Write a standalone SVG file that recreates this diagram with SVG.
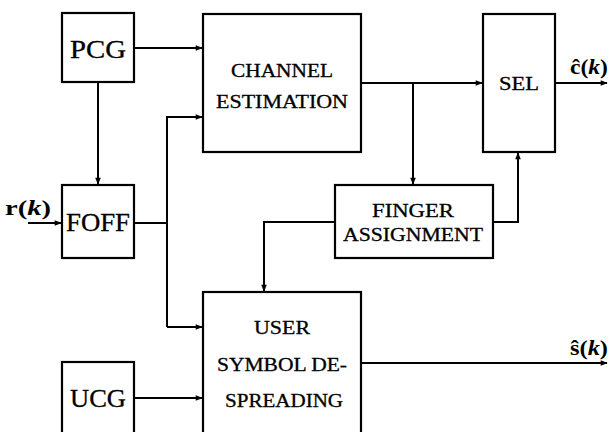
<svg xmlns="http://www.w3.org/2000/svg" width="612" height="432" viewBox="0 0 612 432">
<style>
.box{fill:#fff;stroke:#000;stroke-width:2.2}
.lbl{font-family:"Liberation Serif","DejaVu Serif",serif;fill:#000;stroke:#000;stroke-width:0.3;text-anchor:middle}
.big{font-size:25px}
.mid{font-size:19px}
.math{font-family:"Liberation Serif","DejaVu Serif",serif;font-size:22px;font-weight:bold;fill:#000}
.conn path{fill:none;stroke:#000;stroke-width:2}
</style>
<defs>
<marker id="ah" viewBox="0 0 10 10" refX="9" refY="5" markerWidth="8" markerHeight="7" markerUnits="userSpaceOnUse" orient="auto">
<path d="M0,1 L10,5 L0,9 z" fill="#000"/>
</marker>
</defs>
<rect width="612" height="432" fill="#fff"/>
<g id="connectors" class="conn">
<path d="M134,48 H202" marker-end="url(#ah)"/>
<path d="M98,82 V184" marker-end="url(#ah)"/>
<path d="M28,223 H61" marker-end="url(#ah)"/>
<path d="M134,223 H167"/>
<path d="M167,327 V117 H202" marker-end="url(#ah)"/>
<path d="M167,327 H202" marker-end="url(#ah)"/>
<path d="M134,398 H202" marker-end="url(#ah)"/>
<path d="M361,83 H482" marker-end="url(#ah)"/>
<path d="M413,83 V184" marker-end="url(#ah)"/>
<path d="M555,83 H607" marker-end="url(#ah)"/>
<path d="M493,222 H518 V153" marker-end="url(#ah)"/>
<path d="M335,222 H264 V291" marker-end="url(#ah)"/>
<path d="M361,363 H607" marker-end="url(#ah)"/>
</g>
<g id="pcg"><rect class="box" x="62" y="13" width="72" height="69"/><text class="lbl big" x="98" y="58" textLength="56" lengthAdjust="spacingAndGlyphs">PCG</text></g>
<g id="foff"><rect class="box" x="62" y="185" width="72" height="73"/><text class="lbl big" x="98" y="231" textLength="64" lengthAdjust="spacingAndGlyphs">FOFF</text></g>
<g id="ucg"><rect class="box" x="62" y="362" width="72" height="76"/><text class="lbl big" x="98" y="407" textLength="56" lengthAdjust="spacingAndGlyphs">UCG</text></g>
<g id="channel"><rect class="box" x="203" y="14" width="158" height="138"/><text class="lbl mid" x="282" y="77" textLength="102" lengthAdjust="spacingAndGlyphs">CHANNEL</text><text class="lbl mid" x="282" y="108" textLength="132" lengthAdjust="spacingAndGlyphs">ESTIMATION</text></g>
<g id="sel"><rect class="box" x="483" y="14" width="72" height="138"/><text class="lbl mid" x="519" y="90" textLength="40" lengthAdjust="spacingAndGlyphs">SEL</text></g>
<g id="finger"><rect class="box" x="335" y="185" width="158" height="73"/><text class="lbl mid" x="413" y="217" textLength="82" lengthAdjust="spacingAndGlyphs">FINGER</text><text class="lbl mid" x="413" y="241" textLength="140" lengthAdjust="spacingAndGlyphs">ASSIGNMENT</text></g>
<g id="user"><rect class="box" x="203" y="292" width="158" height="146"/><text class="lbl mid" x="282" y="334" textLength="56" lengthAdjust="spacingAndGlyphs">USER</text><text class="lbl mid" x="282" y="371" textLength="130" lengthAdjust="spacingAndGlyphs">SYMBOL DE-</text><text class="lbl mid" x="284" y="407" textLength="118" lengthAdjust="spacingAndGlyphs">SPREADING</text></g>
<g id="labels">
<text class="math" x="5" y="215" textLength="46" lengthAdjust="spacingAndGlyphs">r(<tspan font-style="italic">k</tspan>)</text>
<text class="math" x="570" y="74" textLength="38" lengthAdjust="spacingAndGlyphs">ĉ(<tspan font-style="italic">k</tspan>)</text>
<text class="math" x="570" y="355" textLength="38" lengthAdjust="spacingAndGlyphs">ŝ(<tspan font-style="italic">k</tspan>)</text>
</g>
</svg>
